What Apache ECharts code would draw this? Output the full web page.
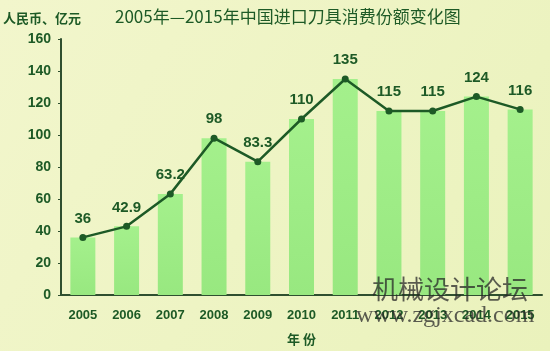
<!DOCTYPE html>
<html>
<head>
<meta charset="utf-8">
<script src="https://cdn.jsdelivr.net/npm/echarts@6/dist/echarts.min.js"></script>
<style>
  html, body { margin: 0; padding: 0; }
  #chart { width: 550px; height: 351px; }
</style>
</head>
<body>
<div id="chart"></div>
<script>
const years = ['2005', '2006', '2007', '2008', '2009', '2010', '2011', '2012', '2013', '2014', '2015']
const barValues = [36, 42.9, 63.2, 98, 83.3, 110, 135, 115, 115, 124, 116]
const lineValues = [36, 42.9, 63.2, 98, 83.3, 110, 135, 115, 115, 124, 116]

const darkGreen = '#1d5a26'
const numFont = '"Liberation Sans Narrow", "Arial Narrow", "Liberation Sans", sans-serif'

const chart = echarts.init(document.getElementById('chart'))

chart.setOption({
  backgroundColor: new echarts.graphic.LinearGradient(0, 0, 1, 1, [
    { offset: 0, color: '#f2f6cc' },
    { offset: 1, color: '#eaf2bc' }
  ]),
  animation: false,
  title: {
    text: '2005年—2015年中国进口刀具消费份额变化图',
    left: 110,
    top: 3,
    textStyle: {
      color: darkGreen,
      fontSize: 17,
      fontWeight: 'normal',
      fontFamily: '"Noto Sans CJK SC", sans-serif'
    }
  },
  grid: {
    left: 61,
    right: 8,
    top: 39,
    bottom: 55
  },
  xAxis: {
    type: 'category',
    data: years,
    name: '年 份',
    nameLocation: 'middle',
    nameGap: 38,
    nameTextStyle: {
      color: darkGreen,
      fontSize: 13,
      fontWeight: 'bold',
      fontFamily: '"Noto Sans CJK SC", sans-serif'
    },
    axisLine: { lineStyle: { color: '#2f4f2f', width: 2 } },
    axisTick: { inside: true, length: 4, lineStyle: { color: '#2f4f2f' } },
    axisLabel: {
      color: darkGreen,
      fontSize: 13,
      fontWeight: 'bold',
      fontFamily: numFont,
      margin: 14
    }
  },
  yAxis: {
    type: 'value',
    min: 0,
    max: 160,
    interval: 20,
    name: '人民币、亿元',
    nameLocation: 'end',
    nameGap: 14,
    nameTextStyle: {
      color: darkGreen,
      fontSize: 13,
      fontWeight: 'bold',
      fontFamily: '"Noto Sans CJK SC", sans-serif',
      align: 'left',
      padding: [0, 0, 0, -58]
    },
    axisLine: { show: true, lineStyle: { color: '#2f4f2f', width: 2 } },
    axisTick: { show: true, length: 3, lineStyle: { color: '#2f4f2f' } },
    splitLine: { show: false },
    axisLabel: {
      color: darkGreen,
      fontSize: 14,
      fontWeight: 'bold',
      fontFamily: numFont,
      margin: 10
    }
  },
  series: [
    {
      type: 'bar',
      data: barValues,
      barWidth: 25,
      itemStyle: {
        color: new echarts.graphic.LinearGradient(0, 0, 0, 1, [
          { offset: 0, color: '#a4f08c' },
          { offset: 1, color: '#98e880' }
        ])
      },
      z: 1
    },
    {
      type: 'line',
      data: lineValues,
      symbol: 'circle',
      symbolSize: 7,
      lineStyle: { color: darkGreen, width: 2.5 },
      itemStyle: { color: darkGreen },
      label: {
        show: true,
        position: 'top',
        distance: 8,
        color: darkGreen,
        fontSize: 15,
        fontWeight: 'bold',
        fontFamily: numFont
      },
      z: 3
    }
  ],
  graphic: [
    {
      type: 'text',
      left: 372,
      top: 276,
      style: {
        text: '机械设计论坛',
        fill: 'rgba(40, 40, 40, 0.75)',
        font: '26px "Noto Sans CJK SC", serif'
      },
      z: 10
    },
    {
      type: 'text',
      left: 356,
      top: 304,
      style: {
        text: 'www.zgjxcad.com',
        fill: 'rgba(40, 40, 40, 0.75)',
        font: '24px "Liberation Serif", serif'
      },
      z: 10
    }
  ]
})
</script>
</body>
</html>
